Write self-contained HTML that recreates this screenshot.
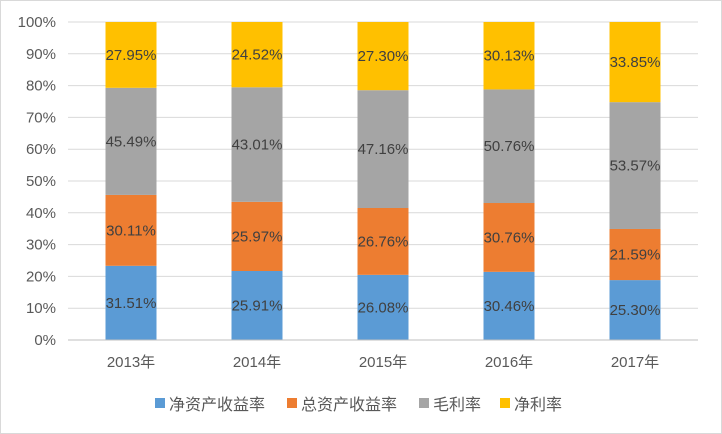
<!DOCTYPE html>
<html><head><meta charset="utf-8"><style>
body{margin:0;background:#fff}
svg{display:block;font-family:"Liberation Sans","Noto Sans CJK SC",sans-serif}
</style></head><body>
<svg id="c" width="722" height="434">
<rect x="0.5" y="0.5" width="721" height="433" fill="#fff" stroke="#d9d9d9"/>
</svg>
<script>
const categories=["2013年","2014年","2015年","2016年","2017年"];
const seriesNames=["净资产收益率","总资产收益率","毛利率","净利率"];
const roe=[31.51,25.91,26.08,30.46,25.30];
const roa=[30.11,25.97,26.76,30.76,21.59];
const gross=[45.49,43.01,47.16,50.76,53.57];
const net=[27.95,24.52,27.30,30.13,33.85];
const yTicks=[0,10,20,30,40,50,60,70,80,90,100];
const colors=["#5b9bd5","#ed7d31","#a5a5a5","#ffc000"];
const series=[roe,roa,gross,net];
const svg=document.getElementById('c');const NS="http://www.w3.org/2000/svg";
const x0=68,x1=698,y0=340,y1=22;
const band=(x1-x0)/categories.length,bw=51;
const y=v=>y0-(v/100)*(y0-y1);
const xc=i=>x0+band*(i+0.5);
function mk(t,a,txt){const e=document.createElementNS(NS,t);for(const k in a)e.setAttribute(k,a[k]);if(txt!=null)e.textContent=txt;svg.appendChild(e);return e;}
yTicks.forEach(t=>{
 const g=mk('line',{x1:x0,x2:x1,y1:y(t),y2:y(t),stroke:'#d9d9d9'});
 
 
 const l=mk('text',{x:56,y:y(t)+5,'text-anchor':'end','font-size':15,fill:'#595959'},t+'%');
 
 
});
categories.forEach((c,i)=>{
 const tot=series.reduce((s,a)=>s+a[i],0);let acc=0;
 series.forEach((a,k)=>{
  const p=a[i]/tot*100;
  const r=mk('rect',{x:xc(i)-bw/2,y:y(acc+p),width:bw,height:y(acc)-y(acc+p),fill:colors[k]});
  
  
  const t=mk('text',{x:xc(i),y:y(acc+p/2)+5,'text-anchor':'middle','font-size':15,fill:'#404040'},a[i].toFixed(2)+'%');
  
  
  acc+=p;
 });
 const l=mk('text',{x:xc(i),y:367,'text-anchor':'middle','font-size':15,fill:'#595959'},c);
 
 
});
const ax=mk('line',{x1:x0,x2:x1,y1:y0,y2:y0,stroke:'#bfbfbf'});


const lx=[155,287,419,500];
seriesNames.forEach((n,k)=>{
 const r=mk('rect',{x:lx[k],y:398,width:10,height:10,fill:colors[k]});
 
 
 const t=mk('text',{x:lx[k]+14,y:410,'font-size':16,fill:'#595959'},n);
 
 
});
</script>
</body></html>
